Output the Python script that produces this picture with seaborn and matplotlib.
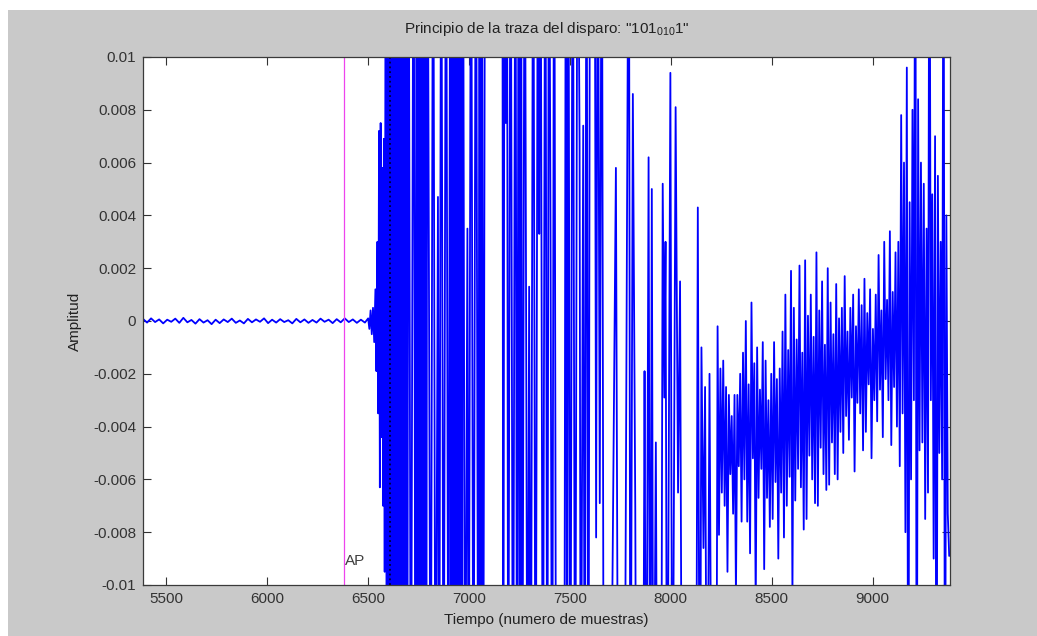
import matplotlib
matplotlib.use("Agg")
import matplotlib.pyplot as plt
from matplotlib.patches import Rectangle
import numpy as np
import pandas as pd
import seaborn as sns

# quiet part of the trace before the arrival (amplitude in 1e-3 units)
noise_start = 5384
noise_step = 20
noise_amps = [0.08, -0.06, 0.10, -0.04, 0.06, -0.09, 0.05, -0.03, 0.09, -0.07,
              0.12, -0.05, 0.04, -0.10, 0.07, -0.06, 0.03, -0.12, 0.05, -0.08,
              0.06, -0.04, 0.09, -0.07, 0.02, -0.09, 0.08, -0.05, 0.06, -0.03,
              0.10, -0.08, 0.05, -0.06, 0.07, -0.04, 0.03, -0.09, 0.08, -0.05,
              0.06, -0.07, 0.04, -0.06, 0.09, -0.03, 0.05, -0.08, 0.07, -0.05,
              0.10, -0.04, 0.06, -0.07, 0.05, -0.06]

# peaks / troughs of the arrival (sample, amplitude in 1e-3 units); +-20 is off-scale
trace_samples = [
    6500, 6506, 6512, 6518, 6524, 6530, 6536, 6541, 6546, 6550, 6554, 6558, 6562, 6566, 6570, 6574, 6578, 6582,
    6587, 6592, 6597, 6602, 6607, 6612, 6617, 6622, 6627, 6632, 6637, 6642, 6647, 6652, 6657, 6662, 6667, 6672,
    6677, 6682, 6688, 6694, 6700, 6712, 6725,
    6735, 6740, 6745, 6750, 6755, 6760, 6765, 6770, 6776, 6782, 6788, 6794,
    6810, 6822, 6834, 6846, 6852, 6862, 6874, 6886, 6898,
    6907, 6912, 6917, 6922, 6927, 6932, 6937, 6942, 6947, 6952, 6958, 6964, 6970,
    6980, 6992, 6998, 7010, 7022, 7034, 7046, 7052, 7058, 7064, 7070, 7080, 7165,
    7170, 7176, 7182, 7188, 7194, 7206, 7218, 7230, 7238, 7246, 7252, 7258, 7264,
    7276, 7290, 7298, 7306, 7318, 7330, 7342, 7348, 7354, 7366, 7378, 7388,
    7396, 7404, 7412, 7422, 7432, 7472,
    7480, 7486, 7492, 7502, 7514, 7526, 7538, 7548, 7554,
    7566, 7574, 7582, 7592, 7600, 7622, 7630, 7638, 7648, 7658, 7668, 7700,
    7728, 7740, 7770, 7792, 7800, 7812, 7824, 7830, 7862,
    7870, 7878, 7890, 7898, 7906, 7914, 7926, 7934, 7952, 7960, 7968, 7974, 7982,
    7998, 8008, 8024, 8036, 8046, 8056, 8125,
    8134, 8144, 8152, 8162, 8170, 8180, 8192, 8204, 8225]
trace_amps = [
    0.1, -0.3, 0.4, -0.5, 0.5, -0.8, 1.2, -1.9, 3.0, -3.5, 7.2, -6.3, 7.5, -4.4, 5.8, -7.0, 6.9, -9.5,
    20, -20, 20, -20, 20, -20, 20, -20, 18, -20, 20, -20, 20, -20, 20, -14, 20, -20,
    20, -20, 20, -20, 20, -20, 20,
    -20, 20, -20, 20, -20, 20, -20, 20, -20, 20, -20, 20,
    -20, 20, -20, 4.7, -20, 20, -20, 20, -20,
    20, -20, 20, -20, 20, -20, 20, -20, 20, -20, 20, -20, 20,
    -20, 3.5, -20, 20, -20, 20, -20, 20, -20, 20, -20, 20, 20,
    -20, 20, 7.5, 20, -20, 20, -20, 20, -20, 20, -20, 20, -20,
    20, -20, 1.3, -20, 20, -20, 20, 3.3, 20, -20, 20, -20,
    20, 3.3, -20, 20, -20, -20,
    20, -20, 20, -20, 20, -20, 20, 6.7, -20,
    7.4, -20, 20, -20, 20, 20, -8.2, 20, -6.9, 20, -20, -20,
    5.8, -20, -20, 20, -20, 8.6, -7.1, -20, -20,
    -1.9, -20, 6.2, -20, 5.0, -20, -4.6, -20, -20, 5.2, -2.9, 3.0, -20,
    9.4, -20, 8.1, -6.5, 1.5, -20, -20,
    4.3, -20, -1.0, -8.6, -2.5, -20, -2.0, -20, -20]

# coda: dense oscillation on a regular sample grid (amplitude in 1e-3 units)
coda_start = 8232
coda_step = 7
coda_amps = [
    -0.2, -8.1, -1.8, -6.5, -1.5, -7.0, -2.5, -9.5, -2.8, -5.8, -3.6, -7.3, -2.8, -10.5, -2.8, -5.5,
    -2.0, -7.6, -1.2, -6.0, 0.0, -7.6, -2.4, -8.8, 0.7, -5.2, -1.6, -11.0, -1.0, -6.7, -2.6, -5.6,
    -0.8, -9.4, -1.5, -6.7, -3.0, -7.8, -2.0, -7.5, -0.8, -6.1, -2.2, -9.0, -1.8, -6.5, -0.4, -8.2,
    1.0, -7.0, -1.1, -5.9, 1.9, -10.5, 0.5, -6.8, -0.7, -5.6, 2.1, -6.3, -1.2, -7.9, 2.3, -7.5,
    0.2, -5.1, 1.0, -6.0, -0.6, -6.9, 2.6, -7.0, 0.4, -4.8, 1.5, -5.8, -0.9, -6.4, 2.0, -6.2,
    0.7, -4.6, -0.5, -5.8, 1.4, -6.0, 0.1, -4.2, 0.5, -5.0, 1.7, -3.6, -0.4, -4.5, 0.5, -2.9,
    1.0, -5.7, -0.2, -3.1, 1.2, -3.5, 0.6, -4.9, 1.6, -4.2, 0.3, -2.4, 1.2, -5.2, -0.3, -3.0,
    1.0, -3.8, 2.5, -2.6, 0.4, -4.4, 3.0, -2.2, 0.8, -3.0, 3.4, -4.7, 1.1, -2.5, 2.6, -4.0,
    3.0, -5.5, 7.8, -3.5, 6.0, -8.0, 9.6, -20, 4.5, -6.0, 8.0, -3.0, 20, -20, 8.4, -4.9,
    6.0, -4.6, 5.2, -7.5, 3.5, -6.5, 20, -3.0, 4.8, -9.0, 7.0, -20, 5.5, -5.0, 3.0, -6.0,
    20, -20, 4.0, -7.3, -8.9]

ap_sample = 6380        # vertical marker "AP"
pick_sample = 6609      # dotted marker
x_ticks = [5500, 6000, 6500, 7000, 7500, 8000, 8500, 9000]
y_ticks = [-0.01, -0.008, -0.006, -0.004, -0.002, 0, 0.002, 0.004, 0.006, 0.008, 0.01]
y_tick_labels = ['-0.01', '-0.008', '-0.006', '-0.004', '-0.002', '0',
                 '0.002', '0.004', '0.006', '0.008', '0.01']

noise_samples = noise_start + noise_step * np.arange(len(noise_amps))
coda_samples = coda_start + coda_step * np.arange(len(coda_amps))
df = pd.DataFrame({
    'muestra': np.concatenate([noise_samples, trace_samples, coda_samples]),
    'amp': np.concatenate([noise_amps, trace_amps, coda_amps]) * 1e-3,
})

sns.set_style('ticks')
plt.rcParams['font.family'] = ['Liberation Sans', 'DejaVu Sans']
plt.rcParams['mathtext.fontset'] = 'custom'
plt.rcParams['mathtext.rm'] = 'Liberation Sans'
plt.rcParams['mathtext.default'] = 'regular'

fig = plt.figure(figsize=(10.37, 6.36), dpi=100, facecolor='#c9c9c9')
# thin white margin on top and left, like the screenshot
fig.patches.append(Rectangle((0, 1 - 10 / 636), 1, 10 / 636, transform=fig.transFigure,
                             facecolor='white', edgecolor='none'))
fig.patches.append(Rectangle((0, 0), 8 / 1037, 1, transform=fig.transFigure,
                             facecolor='white', edgecolor='none'))
ax = fig.add_axes([143 / 1037, 1 - 585 / 636, (950 - 143) / 1037, (585 - 57) / 636])
ax.set_facecolor('white')

sns.lineplot(data=df, x='muestra', y='amp', estimator=None, sort=False,
             color='#0000ff', linewidth=1.3, ax=ax)
ax.axvline(ap_sample, color='#ee44ee', linewidth=0.9)
ax.axvline(pick_sample, color='#000033', linewidth=1.3, linestyle=':')
ax.text(ap_sample + 6, -0.0091, 'AP', fontsize=11, color='#404040', va='center', ha='left')

ax.set_xlim(5384, 9384)
ax.set_ylim(-0.01, 0.01)
ax.set_xticks(x_ticks)
ax.set_yticks(y_ticks)
ax.set_yticklabels(y_tick_labels)
ax.tick_params(direction='in', top=True, right=True, length=6, width=0.8,
               labelsize=11, colors='#333333', pad=5)
for s in ax.spines.values():
    s.set_color('#3a3a3a')
    s.set_linewidth(0.9)

ax.set_title('Principio de la traza del disparo: "101$_{010}$1"', fontsize=11,
             color='#222222', pad=17)
ax.set_xlabel('Tiempo (numero de muestras)', fontsize=11, color='#222222', labelpad=5)
ax.set_ylabel('Amplitud', fontsize=11, color='#222222', labelpad=8)

fig.savefig('out.png', dpi=100, facecolor=fig.get_facecolor())
